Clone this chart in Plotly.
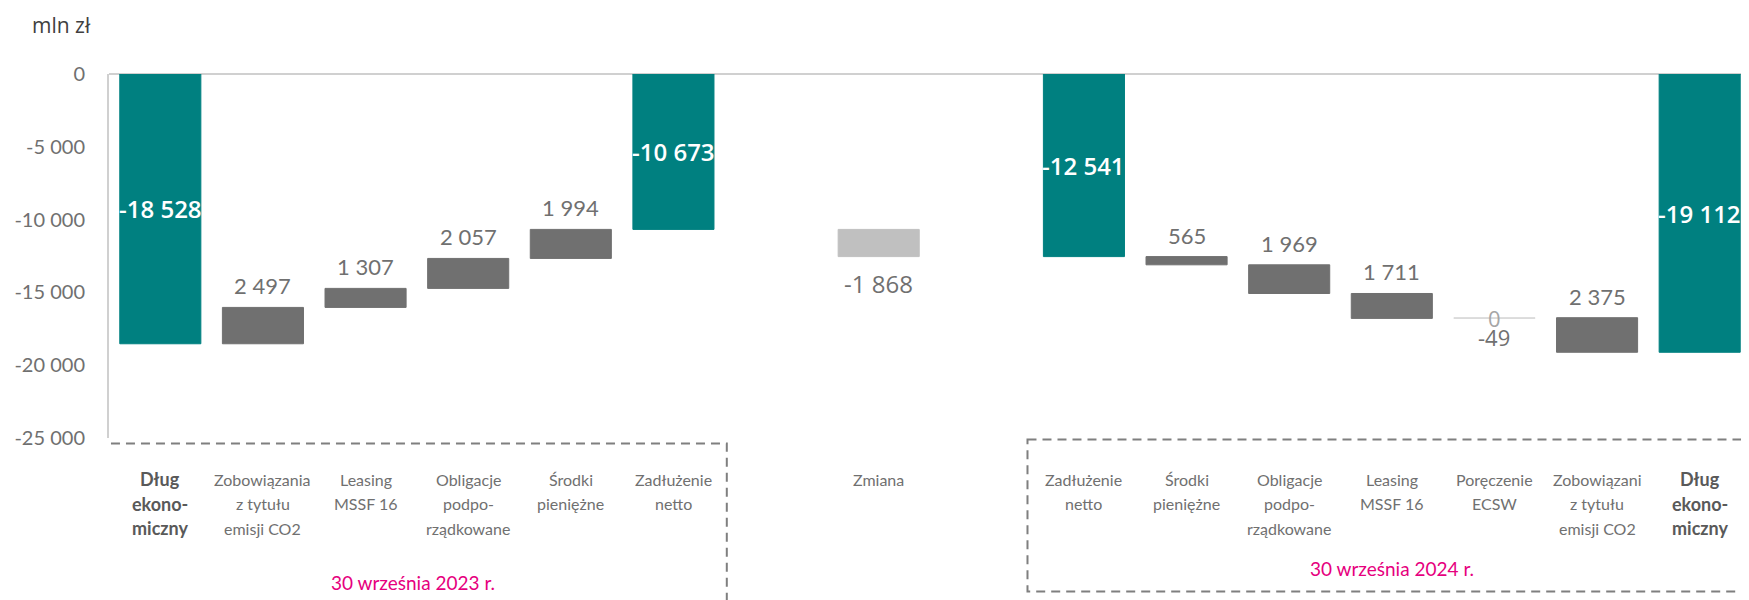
import plotly.graph_objects as go

# --- data -------------------------------------------------------------
categories = [
    "Dług<br>ekono-<br>miczny", "Zobowiązania<br>z tytułu<br>emisji CO2", "Leasing<br>MSSF 16",
    "Obligacje<br>podpo-<br>rządkowane", "Środki<br>pieniężne", "Zadłużenie<br>netto",
    "", "Zmiana", "",
    "Zadłużenie<br>netto", "Środki<br>pieniężne", "Obligacje<br>podpo-<br>rządkowane",
    "Leasing<br>MSSF 16", "Poręczenie<br>ECSW", "Zobowiązani<br>z tytułu<br>emisji CO2",
    "Dług<br>ekono-<br>miczny",
]
bold_idx = [0, 15]

debt_2023 = -18528
steps_2023 = [2497, 1307, 2057, 1994]
net_2023 = -10673
change = -1868
net_2024 = -12541
steps_2024 = [-565, -1969, -1711, 49, -2375]
step_labels_2024 = ["565", "1 969", "1 711", "0", "2 375"]
debt_2024 = -19112

y_ticks = [0, -5000, -10000, -15000, -20000, -25000]

TEAL = "#008080"
DARK = "#707070"
LIGHT = "#c0c0c0"
PINK = "#e6007e"
FONT = "Lato"


def fmt(v):
    s = f"{abs(v):,}".replace(",", " ")
    return ("-" if v < 0 else "") + s


# build bar list: (x, low, high, color, kind, label)
bars = []
bars.append((0, debt_2023, 0, TEAL, "total", fmt(debt_2023)))
level = debt_2023
for i, s in enumerate(steps_2023):
    bars.append((1 + i, level, level + s, DARK, "step", fmt(s)))
    level += s
bars.append((5, net_2023, 0, TEAL, "total", fmt(net_2023)))
bars.append((7, net_2023 + change, net_2023, LIGHT, "change", fmt(change)))
bars.append((9, net_2024, 0, TEAL, "total", fmt(net_2024)))
level = net_2024
for i, s in enumerate(steps_2024):
    lo, hi = min(level, level + s), max(level, level + s)
    bars.append((10 + i, lo, hi, DARK if i != 3 else "#d9d9d9", "step", step_labels_2024[i]))
    level += s
bars.append((15, debt_2024, 0, TEAL, "total", fmt(debt_2024)))

fig = go.Figure()
fig.add_trace(go.Bar(
    x=[b[0] for b in bars],
    y=[b[2] - b[1] for b in bars],
    base=[b[1] for b in bars],
    marker=dict(color=[b[3] for b in bars],
                line=dict(color=[b[3] for b in bars], width=1)),
    width=0.79,
    hoverinfo="skip",
    showlegend=False,
))

annotations = []
for x, lo, hi, color, kind, label in bars:
    if kind == "total":
        annotations.append(dict(x=x, y=(lo + hi) / 2, text=label, showarrow=False,
                                font=dict(family="Open Sans", size=24, weight=600, color="white")))
    elif kind == "change":
        annotations.append(dict(x=x, y=lo, text=label, showarrow=False, yanchor="top", yshift=-8,
                                font=dict(family="Open Sans", size=24, color=DARK)))
    elif label == "0":
        annotations.append(dict(x=x, y=hi, text="0", showarrow=False,
                                font=dict(family="Open Sans", size=22, color="#a6a6a6")))
        annotations.append(dict(x=x, y=hi, text="-49", showarrow=False, yshift=-19,
                                font=dict(family="Open Sans", size=22, color=DARK)))
    else:
        annotations.append(dict(x=x, y=hi, text=label, showarrow=False, yanchor="bottom", yshift=6,
                                font=dict(family=FONT, size=22, color=DARK)))

# category labels, one annotation per line for the wider line spacing
for i, c in enumerate(categories):
    if not c:
        continue
    bold = i in bold_idx
    for k, line in enumerate(c.split("<br>")):
        annotations.append(dict(
            x=i, y=-0.113 - 0.0673 * k, yref="paper", yanchor="middle",
            text=f"<b>{line}</b>" if bold else line, showarrow=False,
            font=dict(family=FONT, size=18 if bold else 16, color="#595959" if bold else DARK),
        ))

annotations += [
    dict(x=-0.048, y=1.135, xref="paper", yref="paper", xanchor="left", yanchor="middle",
         text="mln zł", showarrow=False, font=dict(family="Open Sans", size=21, color="#404040")),
    dict(x=2.46, y=-0.434, yref="paper", text="30 września 2023 r.", showarrow=False,
         font=dict(family=FONT, size=19, color=PINK)),
    dict(x=12.0, y=-0.395, yref="paper", text="30 września 2024 r.", showarrow=False,
         font=dict(family=FONT, size=19, color=PINK)),
]

box_line = dict(color="#7f7f7f", width=2, dash="9px,6px")
shapes = [
    dict(type="rect", xref="x", yref="paper", x0=-0.627, x1=5.52, y0=-0.0154, y1=-0.6,
         line=box_line),
    dict(type="rect", xref="x", yref="paper", x0=8.45, x1=16.2, y0=-0.0044, y1=-0.422,
         line=box_line),
]

fig.update_layout(
    width=1749, height=600,
    margin=dict(l=101, r=6, t=66, b=170),
    plot_bgcolor="white", paper_bgcolor="white",
    annotations=annotations,
    shapes=shapes,
)
fig.update_xaxes(range=[-0.5, 15.5], showticklabels=False, showgrid=False,
                 zeroline=False, showline=False)
fig.update_yaxes(
    range=[-25000, 0], tickvals=y_ticks, ticktext=[fmt(v) for v in y_ticks],
    tickfont=dict(family=FONT, size=20, color=DARK),
    showgrid=False, zeroline=True, zerolinecolor="#d0d0d0", zerolinewidth=2,
    showline=True, linecolor="#d0d0d0", linewidth=2,
    ticks="outside", ticklen=18, tickcolor="white",
)

fig.write_html("out.html")
